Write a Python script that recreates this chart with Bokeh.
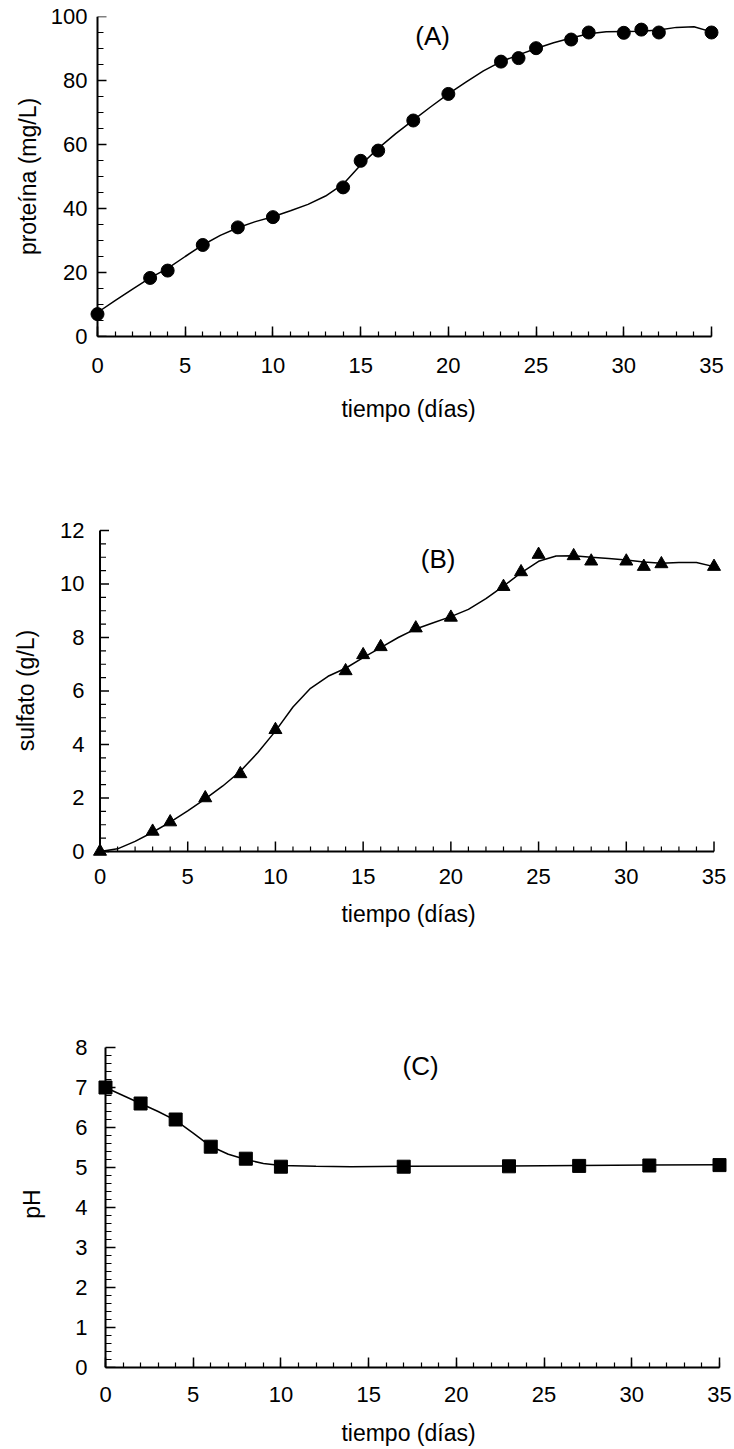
import math
from bokeh.plotting import figure
from bokeh.models import Range1d, SingleIntervalTicker, Label
from bokeh.layouts import column
from bokeh.embed import file_html
from bokeh.resources import INLINE

# ---------------- data ----------------
prot_days = [0, 3, 4, 6, 8, 10, 14, 15, 16, 18, 20, 23, 24, 25, 27, 28, 30, 31, 32, 35]
prot_vals = [7.0, 18.3, 20.6, 28.6, 34.1, 37.3, 46.6, 54.9, 58.1, 67.5, 75.8, 85.9, 87.0,
             90.1, 92.8, 95.0, 94.9, 95.9, 95.0, 95.0]
prot_curve_days = list(range(0, 36))
prot_curve_vals = [7.5, 11.2, 14.8, 18.3, 21.3, 25.0, 28.6, 31.6, 34.0, 35.9, 37.4, 39.3,
                   41.3, 43.9, 47.6, 53.6, 58.8, 63.4, 67.6, 71.8, 75.8, 79.5, 83.0, 85.9,
                   88.0, 90.0, 91.8, 93.3, 94.6, 95.2, 95.3, 95.4, 95.8, 96.6, 96.8, 95.2]

sulf_days = [0, 3, 4, 6, 8, 10, 14, 15, 16, 18, 20, 23, 24, 25, 27, 28, 30, 31, 32, 35]
sulf_vals = [0.0, 0.75, 1.1, 2.0, 2.9, 4.55, 6.75, 7.35, 7.65, 8.35, 8.75, 9.9, 10.45,
             11.1, 11.05, 10.85, 10.85, 10.65, 10.75, 10.65]
sulf_curve_days = list(range(0, 36))
sulf_curve_vals = [0.0, 0.1, 0.38, 0.72, 1.1, 1.52, 1.97, 2.45, 3.0, 3.7, 4.5, 5.4, 6.1,
                   6.55, 6.85, 7.25, 7.62, 8.0, 8.32, 8.55, 8.78, 9.05, 9.45, 9.92, 10.42,
                   10.85, 11.05, 11.06, 11.0, 10.95, 10.9, 10.82, 10.78, 10.8, 10.8, 10.65]

ph_days = [0, 2, 4, 6, 8, 10, 17, 23, 27, 31, 35]
ph_vals = [7.0, 6.6, 6.2, 5.52, 5.22, 5.02, 5.02, 5.03, 5.04, 5.05, 5.06]
ph_curve_days = [0, 1, 2, 3, 4, 5, 6, 7, 8, 9, 10, 12, 14, 17, 23, 27, 31, 35]
ph_curve_vals = [7.0, 6.8, 6.6, 6.4, 6.18, 5.86, 5.53, 5.33, 5.2, 5.1, 5.05, 5.03, 5.02,
                 5.03, 5.04, 5.05, 5.06, 5.07]

x_label = "tiempo (días)"
X_MAX = 35
FONT = "Liberation Sans"
TICK_FS = "22px"
LABEL_FS = "23px"
FIG_W = 734
BORDER_L, BORDER_R = 88, 6


def make_fig(height, xr, yr, top, bottom):
    p = figure(width=FIG_W, height=height, x_range=Range1d(*xr), y_range=Range1d(*yr),
               output_backend="svg", toolbar_location=None,
               min_border_left=BORDER_L, min_border_right=BORDER_R,
               min_border_top=top, min_border_bottom=bottom)
    p.outline_line_color = None
    p.xgrid.visible = False
    p.ygrid.visible = False
    p.background_fill_color = "white"
    p.border_fill_color = "white"
    for ax in (p.xaxis[0], p.yaxis[0]):
        ax.axis_line_width = 2
        ax.axis_line_color = "black"
        ax.major_tick_line_width = 1.5
        ax.minor_tick_line_width = 1.2
        ax.major_tick_line_color = "black"
        ax.minor_tick_line_color = "black"
        ax.major_tick_out = 0
        ax.minor_tick_out = 0
        ax.major_label_text_font = FONT
        ax.major_label_text_font_size = TICK_FS
        ax.major_label_text_color = "black"
        ax.axis_label_text_font = FONT
        ax.axis_label_text_font_size = LABEL_FS
        ax.axis_label_text_font_style = "normal"
        ax.axis_label_text_color = "black"
    p.xaxis.ticker = SingleIntervalTicker(interval=5, num_minor_ticks=5)
    p.xaxis.bounds = (0, X_MAX)
    p.xaxis.major_tick_in = 10
    p.xaxis.minor_tick_in = 5
    p.xaxis.axis_label = x_label
    return p


def hide_axis_marks(ax):
    ax.axis_line_color = None
    ax.major_tick_line_color = None
    ax.minor_tick_line_color = None


def draw_y_axis(p, ymax, major, minor, major_len, minor_len):
    """Axis line at x=0 with inward ticks."""
    p.segment(x0=[0], y0=[0], x1=[0], y1=[ymax], line_color="black", line_width=2)
    n_minor = int(round(ymax / minor))
    minors = [i * minor for i in range(n_minor + 1)]
    majors = [v for v in minors if abs(v / major - round(v / major)) < 1e-6]
    only_minor = [v for v in minors if v not in majors]
    p.ray(x=[0] * len(only_minor), y=only_minor, length=minor_len, angle=0,
          length_units="screen", line_color="black", line_width=1.2)
    p.ray(x=[0] * len(majors), y=majors, length=major_len, angle=0,
          length_units="screen", line_color="black", line_width=1.5)


def draw_x_axis(p):
    p.segment(x0=[0], y0=[0], x1=[X_MAX], y1=[0], line_color="black", line_width=2)
    minors = list(range(0, X_MAX + 1))
    majors = [v for v in minors if v % 5 == 0]
    only_minor = [v for v in minors if v % 5 != 0]
    p.ray(x=only_minor, y=[0] * len(only_minor), length=5, angle=math.pi / 2,
          length_units="screen", line_color="black", line_width=1.2)
    p.ray(x=majors, y=[0] * len(majors), length=10, angle=math.pi / 2,
          length_units="screen", line_color="black", line_width=1.5)


# ---------------- panel A ----------------
pA = make_fig(470, (-0.513, 35.969), (0, 100), 16, 134)
pA.yaxis.ticker = SingleIntervalTicker(interval=20, num_minor_ticks=4)
pA.yaxis.bounds = (0, 100)
hide_axis_marks(pA.yaxis[0])
pA.yaxis.axis_label = "proteína (mg/L)"
pA.yaxis.major_label_standoff = 1
pA.yaxis.axis_label_standoff = 7
pA.xaxis.major_label_standoff = 21
pA.xaxis.axis_label_standoff = 20
draw_y_axis(pA, 100, 20, 5, 9, 6)
pA.line(prot_curve_days, prot_curve_vals, line_width=1.5, line_color="black")
pA.scatter(prot_days, prot_vals, marker="circle", size=13, color="black")
pA.add_layout(Label(x=19.1, y=94, text="(A)", text_font=FONT, text_font_size="26px",
                    text_align="center", text_baseline="middle", text_color="black"))

# ---------------- panel B ----------------
pB = make_fig(490, (-0.656, 35.826), (-0.262, 12.299), 52, 102)
pB.yaxis.ticker = SingleIntervalTicker(interval=2, num_minor_ticks=4)
pB.yaxis.bounds = (0, 12)
hide_axis_marks(pB.yaxis[0])
hide_axis_marks(pB.xaxis[0])
pB.yaxis.axis_label = "sulfato (g/L)"
pB.yaxis.major_label_standoff = 4
pB.yaxis.axis_label_standoff = 18
pB.xaxis.major_label_standoff = 10
pB.xaxis.axis_label_standoff = 14
draw_y_axis(pB, 12, 2, 0.5, 9, 6)
draw_x_axis(pB)
pB.line(sulf_curve_days, sulf_curve_vals, line_width=1.5, line_color="black")
pB.scatter(sulf_days, sulf_vals, marker="triangle", size=13, color="black")
pB.add_layout(Label(x=19.27, y=10.95, text="(B)", text_font=FONT, text_font_size="26px",
                    text_align="center", text_baseline="middle", text_color="black"))

# ---------------- panel C ----------------
pC = make_fig(488, (-0.969, 35.513), (0, 8.175), 80, 81)
pC.yaxis.ticker = SingleIntervalTicker(interval=1, num_minor_ticks=5)
pC.yaxis.bounds = (0, 8)
hide_axis_marks(pC.yaxis[0])
pC.yaxis.axis_label = "pH"
pC.yaxis.major_label_standoff = 1
pC.yaxis.axis_label_standoff = 27
pC.xaxis.major_label_standoff = 19
pC.xaxis.axis_label_standoff = 15
draw_y_axis(pC, 8, 1, 0.2, 10, 6)
pC.line(ph_curve_days, ph_curve_vals, line_width=1.5, line_color="black")
pC.scatter(ph_days, ph_vals, marker="square", size=13, color="black")
pC.add_layout(Label(x=17.96, y=7.53, text="(C)", text_font=FONT, text_font_size="26px",
                    text_align="center", text_baseline="middle", text_color="black"))

layout = column(pA, pB, pC)
open("out.html", "w").write(file_html(layout, INLINE))
